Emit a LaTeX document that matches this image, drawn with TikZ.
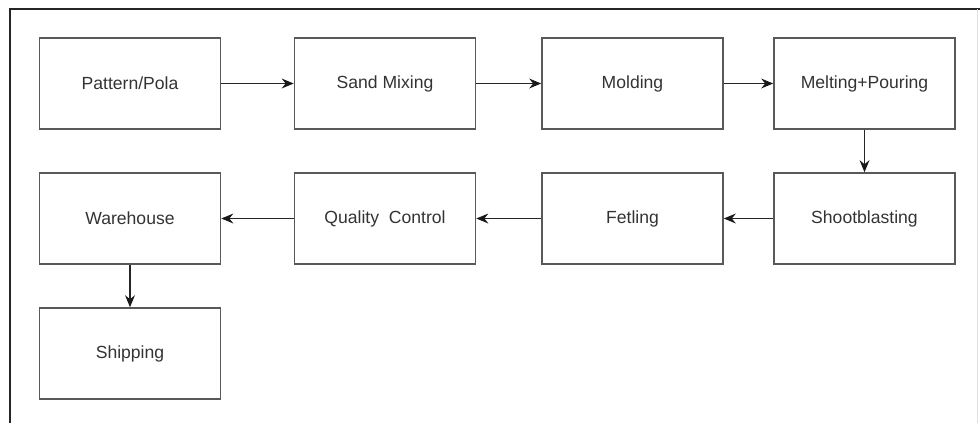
\documentclass[tikz,border=0pt]{standalone}
\usepackage{fontspec}
\setmainfont{Liberation Sans}
\usepackage{tikz}
\usetikzlibrary{arrows.meta}
\usetikzlibrary{positioning}

\begin{document}
\begin{tikzpicture}
            \tikzset{x=0.025cm, y=-0.025cm,
                    every node/.style={rectangle, draw=black!65, line width=1.1pt,
                        minimum width=4.525cm, minimum height=2.275cm,
                        text=black!80, font=\fontsize{12.5}{15}\selectfont},
                    >={Stealth[black!90, length=8.5pt, width=7pt]},
                    every edge/.style={draw=black!85, line width=1pt}}
            \useasboundingbox (0, 0) rectangle (980, 423);
            \draw[black!85, line width=1.2pt] (10, 423) -- (10, 9) -- (980, 9);
            \draw[black!12] (977, 9) -- (977, 423);
            \node (1) at (130, 83.5) {Pattern/Pola};
            \node (2) at (385, 83.5) {Sand Mixing};
            \node (3) at (632.5, 83.5) {Molding};
            \node (4) at (864.5, 83.5) {Melting+Pouring};
            \node (5) at (864.5, 218.5) {Shootblasting};
            \node (6) at (632.5, 218.5) {Fetling};
            \node (7) at (385, 218.5) {Quality\ \ Control};
            \node (8) at (130, 218.5) {Warehouse};
            \node (9) at (130, 353.5) {Shipping};
            \path [->] (1) edge (2);
            \path [->] (2) edge (3);
            \path [->] (3) edge (4);
            \path [->] (4) edge (5);
            \path [->] (5) edge (6);
            \path [->] (6) edge (7);
            \path [->] (7) edge (8);
            \path [->] (8) edge (9);
        \end{tikzpicture}
\end{document}
